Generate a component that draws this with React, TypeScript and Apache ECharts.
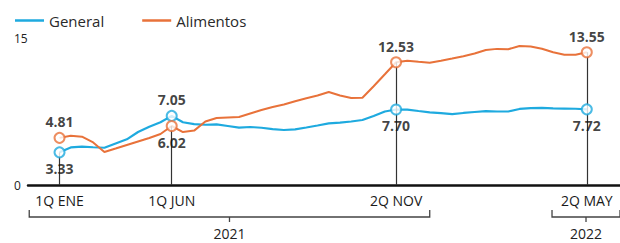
import React, { useEffect, useRef } from 'react';
import * as echarts from 'echarts';

// Biweekly annual inflation (%)
const general = [3.33, 3.83, 3.91, 3.85, 3.8, 4.23, 4.66, 5.41, 5.95, 6.4, 7.05, 6.4, 6.22, 6.15, 6.18, 6.02, 5.86, 5.92, 5.84, 5.71, 5.61, 5.68, 5.87, 6.07, 6.28, 6.37, 6.48, 6.63, 7.04, 7.5, 7.7, 7.7, 7.55, 7.42, 7.33, 7.24, 7.35, 7.45, 7.53, 7.5, 7.5, 7.76, 7.84, 7.86, 7.82, 7.8, 7.78, 7.72];
const alimentos = [4.81, 5.03, 4.93, 4.34, 3.37, 3.72, 4.08, 4.44, 4.8, 5.2, 6.02, 5.4, 5.55, 6.48, 6.84, 6.89, 6.94, 7.3, 7.65, 7.96, 8.21, 8.55, 8.85, 9.13, 9.49, 9.13, 8.88, 8.91, 10.08, 11.3, 12.53, 12.69, 12.57, 12.47, 12.68, 12.9, 13.13, 13.42, 13.78, 13.89, 13.86, 14.18, 14.13, 13.9, 13.54, 13.3, 13.3, 13.55];

const markIdx = [0, 10, 30, 47];
const markNames = ['1Q ENE', '1Q JUN', '2Q NOV', '2Q MAY'];
const stemFrom = ['General', 'Alimentos', 'Alimentos', 'Alimentos'];
const yearLabels = ['2021', '2022'];
const yearStart = [-2.7, 43.9];
const yearEnd = [33.0, 49.96];

const BLUE = '#1eaadf';
const ORANGE = '#e8723a';
const FONT = 'Open Sans';

export default function App() {
  const ref = useRef<HTMLDivElement>(null);
  useEffect(() => {
    const chart = echarts.init(ref.current!, null, { renderer: 'svg' });
    const byName: Record<string, number[]> = { General: general, Alimentos: alimentos };
    const pts = (arr: number[]) => arr.map((v, i) => [i, v]);
    const marks = (arr: number[], other: number[]) =>
      markIdx.map((i) => ({
        value: [i, arr[i]],
        label: { position: arr[i] >= other[i] ? 'top' : 'bottom' },
      }));
    const stems = markIdx.map((i, k) => [
      { coord: [i, byName[stemFrom[k]][i]] },
      { coord: [i, 0] },
    ]);
    const markStyle = (color: string) => ({
      type: 'scatter',
      symbol: 'circle',
      symbolSize: 10,
      z: 5,
      itemStyle: { color: '#fff', borderColor: color, borderWidth: 2 },
      label: {
        show: true,
        distance: 3,
        fontSize: 14,
        fontWeight: 'bold',
        fontFamily: FONT,
        color: '#111',
        formatter: (p: any) => p.value[1].toFixed(2),
      },
    });

    chart.setOption({
      animation: false,
      grid: { left: 28, right: 0, top: 38, bottom: 58 },
      legend: {
        data: ['General', 'Alimentos'],
        left: 10,
        top: 8,
        icon: 'rect',
        itemWidth: 29,
        itemHeight: 2.5,
        itemGap: 38,
        textStyle: { fontSize: 15, color: '#2a2a2a', fontFamily: FONT },
      },
      xAxis: {
        type: 'value',
        min: -2.81,
        max: 49.96,
        axisLine: { show: true, lineStyle: { color: '#111', width: 2.5 } },
        axisTick: { show: false },
        splitLine: { show: false },
        axisLabel: {
          customValues: markIdx,
          margin: 8,
          fontSize: 14,
          color: '#1a1a1a',
          fontFamily: FONT,
          formatter: (v: number) => {
            const k = markIdx.indexOf(Math.round(v));
            return k >= 0 ? markNames[k] : '';
          },
        },
      },
      yAxis: {
        type: 'value',
        min: 0,
        max: 15,
        interval: 15,
        axisLine: { show: false },
        axisTick: { show: false },
        splitLine: { show: false },
        axisLabel: { align: 'left', margin: 14, fontSize: 12, color: '#222', fontFamily: FONT },
      },
      series: [
        {
          name: 'General',
          type: 'line',
          data: pts(general),
          symbol: 'none',
          lineStyle: { color: BLUE, width: 2.2 },
          itemStyle: { color: BLUE },
          z: 3,
          markLine: {
            silent: true,
            symbol: ['none', 'none'],
            label: { show: false },
            lineStyle: { color: '#333', width: 1.2, type: 'solid' },
            data: stems,
          },
        },
        {
          name: 'Alimentos',
          type: 'line',
          data: pts(alimentos),
          symbol: 'none',
          lineStyle: { color: ORANGE, width: 2 },
          itemStyle: { color: ORANGE },
          z: 3,
        },
        { name: 'General-pts', ...markStyle(BLUE), data: marks(general, alimentos) },
        { name: 'Alimentos-pts', ...markStyle(ORANGE), data: marks(alimentos, general) },
      ],
    });

    const X = (v: number) => chart.convertToPixel({ xAxisIndex: 0 }, v) as number;
    const yTop = 210, yLine = 217, yTickEnd = 222;
    const graphic: any[] = [];
    yearLabels.forEach((lab, k) => {
      const x0 = X(yearStart[k]);
      const x1 = X(yearEnd[k]);
      const xm = X((yearStart[k] + yearEnd[k]) / 2);
      graphic.push(
        {
          type: 'polyline',
          shape: { points: [[x0, yTop], [x0, yLine], [x1, yLine], [x1, yTop]] },
          style: { stroke: '#444', lineWidth: 1.3, fill: null },
        },
        {
          type: 'line',
          shape: { x1: xm, y1: yLine, x2: xm, y2: yTickEnd },
          style: { stroke: '#444', lineWidth: 1.3 },
        },
        {
          type: 'text',
          x: xm,
          y: 233,
          style: { text: lab, align: 'center', verticalAlign: 'middle', fontSize: 14, fill: '#222', fontFamily: FONT },
        }
      );
    });
    chart.setOption({ graphic });

    return () => chart.dispose();
  }, []);
  return <div ref={ref} style={{ position: 'fixed', left: 0, top: 0, width: 620, height: 243, background: '#fff' }} />;
}
